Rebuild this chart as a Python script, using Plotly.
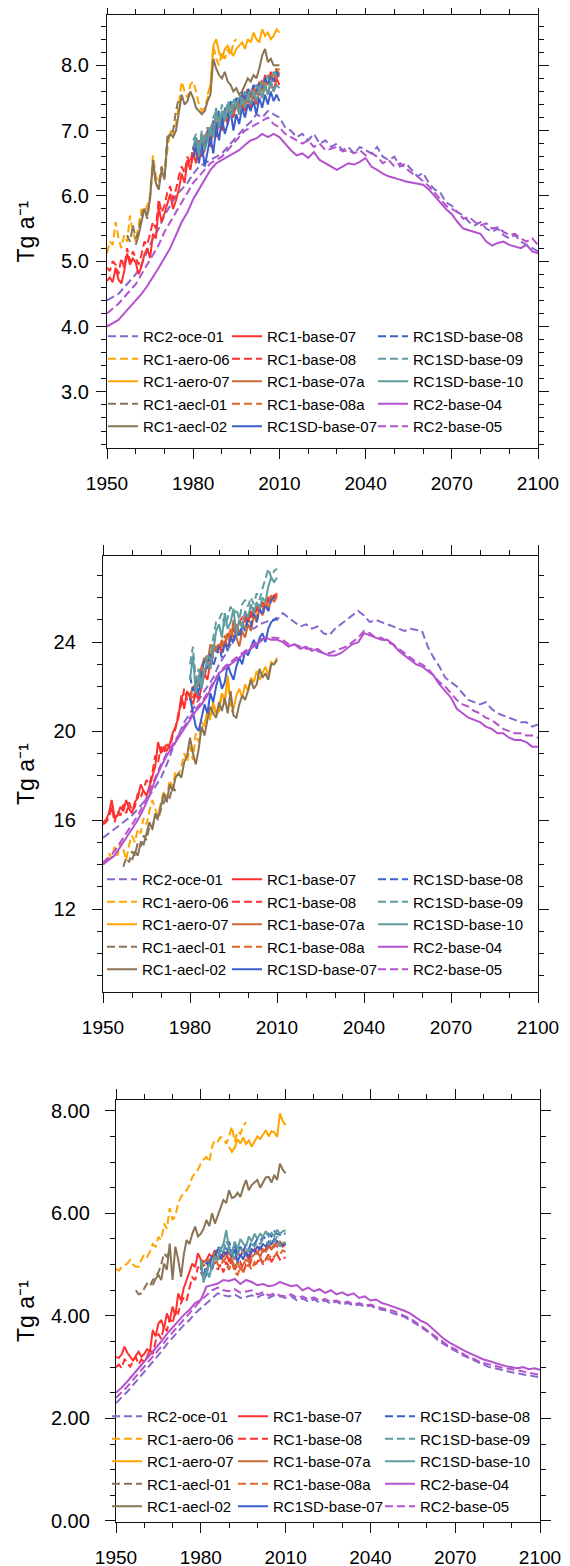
import plotly.graph_objects as go

FONT = "Liberation Sans, Arial, Helvetica, sans-serif"
W, H = 570, 1566
PAGE_OFFSET = 8  # default body margin of the html page

NAMES = ["RC2-oce-01", "RC1-aero-06", "RC1-aero-07", "RC1-aecl-01", "RC1-aecl-02",
         "RC1-base-07", "RC1-base-08", "RC1-base-07a", "RC1-base-08a", "RC1SD-base-07",
         "RC1SD-base-08", "RC1SD-base-09", "RC1SD-base-10", "RC2-base-04", "RC2-base-05"]
COLORS = ["#8968CD", "#FFA500", "#FFA500", "#8B7355", "#8B7355",
          "#FF3030", "#FF3030", "#CD6839", "#E0652A", "#3A5FCD",
          "#3A5FCD", "#5F9EA0", "#5F9EA0", "#B452CD", "#B452CD"]
DASHED = [True, True, False, True, False,
          False, True, False, True, False,
          True, True, False, False, True]

# ---------------- Panel A (top) ----------------
A_oce01 = [4.40, 4.45, 4.50, 4.60, 4.70, 4.80, 4.95, 5.15, 5.35, 5.50,
           5.70, 5.85, 6.00, 6.10, 6.20, 6.34, 6.45, 6.50, 6.55, 6.60,
           6.65, 6.75, 6.85, 6.95, 7.05, 7.13, 7.25, 7.20, 7.30, 7.25,
           7.20, 7.05, 7.00, 6.90, 6.95, 6.85, 6.95, 6.80, 6.85, 6.75,
           6.80, 6.70, 6.75, 6.65, 6.75, 6.70, 6.65, 6.75, 6.60, 6.55,
           6.60, 6.45, 6.50, 6.40, 6.30, 6.35, 6.20, 6.10, 6.05, 5.90,
           5.85, 5.75, 5.70, 5.60, 5.55, 5.60, 5.50, 5.45, 5.50, 5.40,
           5.35, 5.40, 5.30, 5.25, 5.20, 5.15]
A_aero06 = [5.12, 5.30, 5.25, 5.60, 5.35, 5.20, 5.40, 5.30, 5.70, 5.45,
            5.30, 5.55, 5.80, 5.75, 5.85, 6.00, 6.62, 6.30, 6.20, 6.45,
            6.30, 6.70, 7.00, 6.95, 7.10, 7.40, 7.75, 7.60, 7.50, 7.70,
            7.75, 7.60, 7.40, 7.30, 7.35, 7.50, 7.60, 8.30, 8.10, 8.00,
            8.20, 8.10, 8.25, 8.15, 8.35, 8.40]
A_aero07 = [7.55, 7.70, 8.30, 8.40, 8.20, 8.10, 8.25, 8.30, 8.20, 8.15,
            8.25, 8.30, 8.35, 8.25, 8.40, 8.35, 8.50, 8.40, 8.35, 8.55,
            8.45, 8.50, 8.40, 8.45, 8.55, 8.50]
A_aecl01 = [5.40, 5.30, 5.55, 5.35, 5.45, 5.70, 5.80, 5.65, 6.00, 6.50,
            6.20, 6.10, 6.45, 6.30, 6.90, 6.95, 7.00, 7.30, 7.50]
A_aecl02 = [5.25, 5.40, 5.60, 5.80, 5.70, 5.95, 6.55, 6.20, 6.10, 6.40,
            6.25, 6.85, 6.95, 6.90, 7.00, 7.30, 7.55, 7.40, 7.45, 7.60,
            7.50, 7.35, 7.30, 7.25, 7.30, 7.45, 7.55, 8.10, 7.95, 7.85,
            7.80, 7.90, 7.75, 7.70, 7.60, 7.65, 7.55, 7.60, 7.70, 7.80,
            7.75, 7.85, 7.80, 7.95, 8.15, 8.25, 8.05, 8.10, 8.00, 8.00, 8.00]
A_base07 = [4.70, 4.75, 4.68, 4.90, 4.72, 4.66, 4.85, 5.12, 4.95, 5.04,
            4.98, 4.80, 4.92, 5.10, 5.20, 5.05, 5.42, 5.35, 5.83, 5.60,
            5.73, 5.90, 6.03, 5.80, 5.93, 6.10, 6.34, 6.20, 6.55, 6.40,
            6.65, 6.50, 6.80, 6.60, 6.70, 6.95, 6.75, 7.05, 6.90, 7.15,
            7.00, 7.25, 7.10, 7.30, 7.20, 7.45, 7.25, 7.40, 7.30, 7.50,
            7.35, 7.55, 7.40, 7.60, 7.50, 7.70, 7.55, 7.75, 7.60, 7.80, 7.70]
A_base08 = [4.90, 4.85, 5.00, 4.95, 4.80, 5.05, 4.90, 5.20, 5.00, 5.15,
            5.05, 4.95, 5.10, 5.30, 5.25, 5.45, 5.60, 5.50, 5.95, 5.75,
            5.85, 6.05, 6.15, 5.95, 6.10, 6.30, 6.45, 6.35, 6.60, 6.50,
            6.75, 6.60, 6.85, 6.70, 6.90, 7.05, 6.85, 7.15, 7.00, 7.20,
            7.10, 7.35, 7.15, 7.40, 7.30, 7.50, 7.35, 7.55, 7.45, 7.65,
            7.50, 7.70, 7.55, 7.75, 7.65, 7.85, 7.70, 7.90, 7.75, 7.95, 7.85]
A_base07a = [6.70, 6.85, 6.60, 6.90, 6.80, 7.00, 6.95, 7.15, 7.05, 7.25,
             7.10, 7.30, 7.20, 7.40, 7.25, 7.45, 7.35, 7.55, 7.40, 7.60,
             7.50, 7.65, 7.55, 7.75, 7.60, 7.80, 7.70, 7.85, 7.75, 7.95, 7.85]
A_base08a = [6.75, 6.65, 6.85, 6.70, 6.95, 6.85, 7.10, 7.00, 7.20, 7.05,
             7.25, 7.15, 7.35, 7.20, 7.40, 7.30, 7.50, 7.40, 7.55, 7.45,
             7.60, 7.55, 7.70, 7.60, 7.80, 7.70, 7.85, 7.75, 7.90, 7.80, 7.95]
A_sd07 = [6.60, 6.75, 6.50, 6.80, 6.45, 6.70, 6.90, 6.65, 7.05, 6.85,
          7.20, 6.95, 7.10, 7.30, 7.00, 7.25, 7.10, 7.35, 7.20, 7.40,
          7.30, 7.45, 7.25, 7.50, 7.35, 7.55, 7.40, 7.60, 7.45, 7.55, 7.45]
A_sd08 = [6.70, 6.85, 6.65, 6.95, 6.75, 7.00, 6.90, 7.15, 7.00, 7.30,
          7.10, 7.35, 7.20, 7.45, 7.30, 7.50, 7.40, 7.60, 7.45, 7.65,
          7.55, 7.70, 7.60, 7.75, 7.65, 7.80, 7.70, 7.85, 7.75, 7.90, 7.80]
A_sd09 = [6.85, 6.95, 6.70, 7.00, 6.80, 7.05, 6.95, 7.20, 7.30, 7.10,
          7.40, 7.20, 7.45, 7.30, 7.50, 7.35, 7.55, 7.45, 7.60, 7.50,
          7.65, 7.55, 7.70, 7.60, 7.75, 7.65, 7.85, 7.70, 7.90, 7.85, 7.90]
A_sd10 = [6.75, 6.90, 6.60, 6.95, 6.70, 6.85, 7.05, 6.90, 7.35, 7.05,
          7.30, 7.15, 7.40, 7.20, 7.35, 7.45, 7.25, 7.50, 7.35, 7.55,
          7.40, 7.60, 7.45, 7.65, 7.50, 7.70, 7.55, 7.75, 7.60, 7.70, 7.65]
A_base04 = [4.00, 4.05, 4.10, 4.20, 4.30, 4.40, 4.50, 4.62, 4.75, 4.90,
            5.05, 5.20, 5.40, 5.60, 5.75, 5.95, 6.10, 6.25, 6.40, 6.50,
            6.55, 6.60, 6.65, 6.70, 6.78, 6.85, 6.88, 6.95, 6.90, 6.95,
            6.90, 6.80, 6.70, 6.62, 6.65, 6.58, 6.67, 6.55, 6.50, 6.45,
            6.40, 6.45, 6.50, 6.48, 6.52, 6.58, 6.45, 6.40, 6.34, 6.30,
            6.28, 6.25, 6.22, 6.20, 6.18, 6.17, 6.10, 6.00, 5.90, 5.80,
            5.72, 5.60, 5.50, 5.47, 5.45, 5.42, 5.30, 5.24, 5.28, 5.30,
            5.25, 5.22, 5.20, 5.25, 5.15, 5.12]
A_base05 = [4.20, 4.28, 4.35, 4.45, 4.55, 4.65, 4.80, 4.95, 5.10, 5.25,
            5.45, 5.60, 5.75, 5.90, 6.05, 6.20, 6.30, 6.40, 6.50, 6.55,
            6.60, 6.70, 6.80, 6.90, 7.00, 7.05, 7.10, 7.15, 7.20, 7.10,
            7.05, 6.95, 6.90, 6.85, 6.80, 6.85, 6.75, 6.80, 6.70, 6.72,
            6.75, 6.68, 6.70, 6.65, 6.70, 6.62, 6.66, 6.60, 6.50, 6.55,
            6.45, 6.50, 6.42, 6.35, 6.30, 6.22, 6.15, 6.05, 5.95, 5.85,
            5.80, 5.75, 5.65, 5.68, 5.60, 5.55, 5.58, 5.50, 5.52, 5.45,
            5.40, 5.42, 5.35, 5.30, 5.35, 5.25]

# ---------------- Panel B (middle) ----------------
B_oce01 = [15.2, 15.4, 15.6, 15.8, 16.0, 16.2, 16.5, 16.8, 17.1, 17.5,
           17.9, 18.5, 19.2, 19.8, 20.4, 20.8, 21.2, 21.6, 22.0, 22.4,
           23.0, 23.4, 23.9, 24.3, 24.6, 24.7, 24.6, 24.8, 24.9, 25.0,
           25.0, 25.3, 25.1, 24.9, 24.7, 24.8, 24.6, 24.7, 24.4, 24.3,
           24.6, 24.8, 25.0, 25.2, 25.4, 25.2, 24.9, 25.0, 24.9, 24.8,
           24.7, 24.6, 24.5, 24.6, 24.55, 24.5, 23.8, 23.3, 22.9, 22.4,
           22.2, 22.0, 21.7, 21.4, 21.3, 21.2, 21.3, 21.0, 20.8, 20.7,
           20.6, 20.5, 20.4, 20.4, 20.2, 20.3]
B_aero06 = [14.0, 14.2, 14.5, 14.3, 14.8, 14.4, 15.0, 14.7, 14.2, 14.9,
            15.3, 15.0, 15.6, 15.4, 16.1, 15.8, 16.4, 16.9, 16.5, 16.2,
            16.8, 17.3, 17.0, 17.8, 17.5, 18.2, 18.0, 18.4, 19.0, 18.6,
            19.3, 18.7, 19.9, 19.5, 20.4, 20.2, 20.9, 20.5, 21.2, 20.7,
            20.9, 21.6, 21.2, 22.3, 21.0, 20.8]
B_aero07 = [20.3, 20.9, 20.6, 21.3, 20.8, 21.1, 21.7, 21.4, 22.5, 21.3,
            21.0, 21.6, 21.9, 21.5, 22.1, 21.8, 22.4, 22.2, 22.7, 22.3,
            22.6, 22.9, 22.5, 23.1, 23.0, 23.3]
B_aecl01 = [13.9, 14.3, 14.1, 14.6, 14.4, 15.0, 14.8, 15.3, 15.1, 15.7,
            15.6, 16.2, 16.0, 16.5, 16.8, 17.1, 17.0, 17.5, 17.3]
B_aecl02 = [14.2, 14.6, 14.4, 15.0, 14.9, 15.4, 15.9, 15.6, 16.3, 16.1,
            16.6, 17.2, 16.8, 17.6, 17.3, 17.9, 18.1, 17.9, 18.6, 18.9,
            19.7, 19.0, 18.5, 19.2, 20.2, 19.8, 20.5, 21.1, 20.8, 20.6,
            21.3, 20.9, 21.5, 20.8, 21.8, 20.7, 20.6, 21.2, 21.6, 21.4,
            21.8, 22.3, 21.9, 22.1, 22.8, 22.4, 22.6, 22.3, 23.0, 23.0, 23.2]
B_base07 = [15.9, 16.0, 16.3, 16.9, 16.1, 16.2, 16.6, 16.4, 16.9, 16.5,
            16.3, 16.8, 17.0, 17.6, 17.3, 17.1, 17.5, 18.0, 18.4, 19.5,
            19.0, 19.3, 19.1, 19.4, 19.9, 20.2, 20.6, 21.6, 21.0, 21.8,
            21.5, 21.2, 21.7, 21.4, 22.0, 22.6, 22.3, 23.0, 23.8, 23.6,
            23.9, 23.5, 24.0, 24.4, 24.2, 24.6, 24.3, 25.0, 24.7, 25.2,
            24.9, 25.4, 25.2, 25.6, 25.5, 25.8, 25.6, 26.0, 25.9, 26.1, 26.1]
B_base08 = [15.8, 15.9, 16.1, 16.6, 15.9, 16.4, 16.2, 16.7, 16.3, 16.8,
            16.4, 16.6, 17.2, 17.0, 17.4, 17.8, 17.6, 18.1, 18.9, 18.6,
            19.3, 19.0, 19.5, 19.2, 19.8, 20.1, 20.8, 21.2, 21.9, 21.4,
            21.7, 21.4, 21.9, 22.2, 22.6, 22.4, 23.1, 22.8, 23.4, 23.7,
            23.5, 23.9, 24.1, 23.8, 24.3, 24.6, 24.5, 24.9, 25.1, 24.9,
            25.3, 25.1, 25.5, 25.4, 25.7, 25.6, 25.9, 25.8, 26.1, 26.0, 26.2]
B_base07a = [21.6, 22.0, 21.7, 22.4, 22.9, 23.3, 23.0, 23.9, 23.6, 23.8,
             23.7, 24.1, 23.8, 24.4, 24.0, 25.0, 24.2, 23.8, 24.5, 24.2,
             24.8, 24.5, 25.2, 24.9, 25.5, 25.2, 25.7, 25.4, 26.0, 25.8, 26.1]
B_base08a = [21.4, 21.9, 22.2, 22.0, 22.7, 23.1, 23.5, 23.3, 23.9, 23.6,
             24.0, 23.8, 24.3, 24.1, 24.6, 24.2, 24.8, 24.4, 24.9, 24.6,
             25.1, 24.8, 25.4, 25.1, 25.7, 25.4, 25.9, 25.6, 26.1, 25.9, 26.0]
B_sd07 = [21.5, 20.9, 20.2, 20.0, 20.6, 21.2, 20.8, 21.7, 21.3, 22.0,
          22.5, 21.9, 22.2, 23.0, 22.6, 22.3, 22.9, 23.3, 23.0, 23.6,
          23.4, 23.8, 24.1, 23.7, 24.2, 24.4, 24.0, 24.6, 24.9, 25.0, 25.1]
B_sd08 = [22.5, 21.8, 22.3, 21.6, 22.6, 23.2, 22.8, 23.5, 22.9, 23.4,
          23.8, 23.3, 24.0, 23.6, 24.3, 23.9, 24.6, 24.2, 24.8, 24.5,
          25.0, 24.7, 25.3, 24.9, 25.5, 25.2, 25.7, 25.4, 25.9, 26.0, 25.9]
B_sd09 = [23.0, 23.8, 22.3, 22.8, 22.2, 22.9, 23.5, 23.2, 24.2, 24.9,
          25.0, 25.3, 24.7, 25.1, 25.6, 25.2, 25.5, 25.0, 25.7, 25.9,
          25.6, 26.0, 25.7, 26.2, 25.9, 26.4, 26.8, 27.3, 26.9, 27.2, 27.3]
B_sd10 = [22.3, 23.4, 21.7, 22.5, 21.9, 22.7, 23.1, 22.8, 23.5, 24.5,
          24.8, 24.2, 25.3, 24.6, 24.9, 25.5, 24.3, 25.0, 24.6, 25.4,
          25.1, 25.7, 25.3, 25.8, 25.5, 26.0, 25.8, 26.5, 26.9, 26.7, 26.9]
B_base04 = [14.0, 14.2, 14.4, 14.8, 15.2, 15.6, 16.0, 16.5, 17.1, 17.8,
            18.4, 18.9, 19.3, 19.7, 20.1, 20.5, 20.9, 21.2, 21.6, 22.1,
            22.6, 22.8, 23.0, 23.2, 23.4, 23.6, 23.8, 24.0, 24.2, 24.1,
            24.1, 24.0, 23.8, 23.9, 23.7, 23.8, 23.6, 23.7, 23.5, 23.4,
            23.4, 23.5, 23.7, 23.9, 24.0, 24.4, 24.3, 24.2, 24.1, 24.1,
            23.9, 23.6, 23.4, 23.2, 23.0, 22.9, 22.7, 22.5, 22.1, 21.8,
            21.5, 21.0, 20.8, 20.6, 20.5, 20.4, 20.2, 20.1, 19.9, 19.9,
            19.7, 19.6, 19.6, 19.5, 19.3, 19.3]
B_base05 = [14.1, 14.3, 14.6, 15.0, 15.4, 15.8, 16.2, 16.7, 17.3, 17.9,
            18.5, 19.0, 19.4, 19.8, 20.2, 20.6, 21.0, 21.3, 21.7, 22.2,
            22.6, 22.9, 23.1, 23.3, 23.5, 23.7, 23.9, 24.1, 24.2, 24.2,
            24.2, 24.1, 23.9, 23.9, 23.8, 23.7, 23.7, 23.6, 23.5, 23.5,
            23.6, 23.7, 23.8, 24.0, 24.2, 24.5, 24.4, 24.2, 24.2, 24.0,
            23.9, 23.7, 23.5, 23.3, 23.1, 23.0, 22.8, 22.5, 22.2, 22.0,
            21.7, 21.4, 21.2, 21.1, 20.9, 20.8, 20.6, 20.5, 20.3, 20.1,
            20.0, 19.9, 19.9, 19.8, 19.8, 19.7]

# ---------------- Panel C (bottom) ----------------
C_oce01 = [2.30, 2.40, 2.52, 2.65, 2.78, 2.90, 3.02, 3.15, 3.30, 3.45,
           3.58, 3.70, 3.82, 3.92, 4.05, 4.15, 4.25, 4.35, 4.44, 4.40,
           4.38, 4.42, 4.35, 4.37, 4.40, 4.36, 4.42, 4.35, 4.40, 4.38,
           4.35, 4.38, 4.30, 4.34, 4.28, 4.32, 4.26, 4.30, 4.24, 4.28,
           4.22, 4.25, 4.20, 4.22, 4.18, 4.20, 4.15, 4.12, 4.10, 4.05,
           4.02, 3.98, 3.92, 3.85, 3.78, 3.70, 3.62, 3.52, 3.45, 3.38,
           3.32, 3.25, 3.20, 3.15, 3.10, 3.05, 3.00, 2.98, 2.95, 2.92,
           2.90, 2.88, 2.86, 2.84, 2.82, 2.80]
C_aero06 = [4.92, 4.88, 4.95, 4.99, 5.02, 5.09, 5.00, 4.96, 4.96, 5.10,
            5.20, 5.15, 5.25, 5.40, 5.35, 5.54, 5.48, 5.80, 5.70, 6.10,
            5.87, 5.95, 6.20, 6.32, 6.40, 6.45, 6.55, 6.71, 6.78, 6.85,
            6.97, 7.05, 7.10, 7.00, 7.30, 7.43, 7.40, 7.49, 7.45, 7.36,
            7.50, 7.69, 7.40, 7.60, 7.55, 7.70, 7.78]
C_aero07 = [7.30, 7.20, 7.28, 7.45, 7.36, 7.48, 7.35, 7.42, 7.30, 7.40,
            7.50, 7.45, 7.55, 7.62, 7.50, 7.60, 7.58, 7.49, 7.95, 7.80, 7.72]
C_aecl01 = [4.50, 4.42, 4.44, 4.55, 4.63, 4.58, 4.70, 4.76, 4.85, 5.00,
            5.22, 5.15, 5.28]
C_aecl02 = [4.60, 4.72, 4.80, 4.70, 5.02, 4.90, 5.41, 4.70, 5.35, 5.10,
            4.76, 5.20, 5.48, 5.40, 5.60, 5.74, 5.55, 5.60, 5.70, 5.87,
            5.75, 6.00, 5.80, 5.95, 6.10, 6.26, 6.20, 6.45, 6.30, 6.32,
            6.40, 6.32, 6.50, 6.65, 6.45, 6.55, 6.60, 6.65, 6.50, 6.60,
            6.70, 6.71, 6.60, 6.75, 6.65, 6.97, 6.85, 6.78]
C_base07 = [3.20, 3.18, 3.25, 3.40, 3.28, 3.20, 3.13, 3.22, 3.30, 3.20,
            3.26, 3.35, 3.30, 3.72, 3.60, 3.85, 3.92, 3.75, 4.05, 3.90,
            4.18, 4.00, 4.44, 4.30, 4.55, 4.70, 4.85, 5.02, 4.95, 5.22,
            5.10, 5.05, 5.09, 5.20, 5.15, 5.28, 5.10, 5.20, 5.15, 5.25,
            5.05, 5.20, 5.10, 5.25, 5.15, 5.30, 5.20, 5.10, 5.25, 5.30,
            5.20, 5.35, 5.25, 5.30, 5.40, 5.30, 5.35, 5.45, 5.40, 5.35, 5.40]
C_base08 = [3.00, 3.05, 2.98, 3.15, 3.10, 3.00, 3.12, 3.20, 3.05, 3.15,
            3.10, 3.20, 3.35, 3.25, 3.50, 3.65, 3.55, 3.80, 3.70, 3.95,
            3.85, 4.10, 4.05, 4.25, 4.37, 4.30, 4.55, 4.75, 4.70, 4.96,
            4.85, 4.75, 4.90, 5.00, 4.95, 5.05, 4.90, 5.00, 4.85, 5.05,
            4.95, 5.10, 4.90, 5.00, 5.05, 4.85, 5.00, 4.95, 5.10, 5.00,
            5.05, 5.15, 5.00, 5.10, 5.20, 5.05, 5.15, 5.20, 5.10, 5.15, 5.12]
C_base07a = [4.95, 5.05, 5.10, 5.00, 5.15, 5.25, 5.10, 5.20, 5.05, 5.15,
             5.25, 5.10, 4.95, 5.05, 4.90, 5.00, 5.10, 5.05, 5.15, 5.20,
             5.25, 5.15, 5.30, 5.25, 5.35, 5.30, 5.40, 5.35, 5.45, 5.40, 5.42]
C_base08a = [4.90, 5.00, 4.95, 5.10, 5.05, 5.20, 5.00, 4.95, 5.10, 5.00,
             4.90, 5.05, 4.85, 4.80, 4.95, 4.85, 4.95, 5.00, 4.90, 5.05,
             5.00, 5.10, 5.05, 5.15, 5.10, 5.20, 5.15, 5.25, 5.20, 5.28, 5.25]
C_sd07 = [5.00, 4.70, 4.80, 5.05, 4.90, 5.15, 5.30, 5.10, 5.25, 5.20,
          5.35, 5.15, 5.30, 5.05, 5.20, 5.10, 5.25, 5.15, 5.30, 5.25,
          5.35, 5.30, 5.40, 5.35, 5.45, 5.40, 5.50, 5.45, 5.40, 5.38, 5.40]
C_sd08 = [4.95, 4.75, 5.05, 4.95, 5.20, 5.15, 5.35, 5.25, 5.40, 5.30,
          5.45, 5.25, 5.40, 5.20, 5.35, 5.25, 5.40, 5.30, 5.45, 5.40,
          5.50, 5.45, 5.55, 5.50, 5.60, 5.55, 5.65, 5.60, 5.58, 5.62, 5.60]
C_sd09 = [5.05, 4.75, 4.85, 5.00, 4.95, 5.10, 5.20, 5.35, 5.25, 5.45,
          5.35, 5.25, 5.10, 5.20, 5.35, 5.20, 5.30, 5.25, 5.40, 5.35,
          5.45, 5.40, 5.50, 5.45, 5.40, 5.50, 5.45, 5.55, 5.35, 5.45, 5.42]
C_sd10 = [5.09, 4.65, 4.90, 4.75, 5.00, 5.15, 5.10, 5.28, 5.40, 5.67,
          5.30, 5.20, 5.45, 5.30, 5.50, 5.41, 5.35, 5.55, 5.45, 5.60,
          5.50, 5.60, 5.55, 5.65, 5.55, 5.62, 5.55, 5.68, 5.60, 5.65, 5.67]
C_base04 = [2.50, 2.60, 2.72, 2.85, 2.98, 3.10, 3.22, 3.35, 3.50, 3.65,
            3.78, 3.90, 4.02, 4.12, 4.25, 4.31, 4.57, 4.60, 4.63, 4.70,
            4.68, 4.72, 4.62, 4.70, 4.66, 4.60, 4.62, 4.58, 4.60, 4.66,
            4.62, 4.58, 4.60, 4.50, 4.55, 4.48, 4.52, 4.45, 4.50, 4.42,
            4.46, 4.40, 4.44, 4.35, 4.38, 4.30, 4.32, 4.25, 4.22, 4.18,
            4.15, 4.10, 4.05, 3.98, 3.90, 3.85, 3.75, 3.65, 3.55, 3.48,
            3.42, 3.35, 3.30, 3.25, 3.20, 3.15, 3.12, 3.08, 3.05, 3.02,
            3.00, 2.98, 3.00, 2.96, 2.98, 2.95]
C_base05 = [2.40, 2.50, 2.62, 2.75, 2.88, 3.00, 3.12, 3.25, 3.40, 3.55,
            3.68, 3.80, 3.92, 4.05, 4.18, 4.30, 4.40, 4.50, 4.55, 4.50,
            4.48, 4.52, 4.45, 4.47, 4.50, 4.42, 4.46, 4.40, 4.44, 4.40,
            4.38, 4.42, 4.35, 4.38, 4.32, 4.36, 4.30, 4.33, 4.28, 4.30,
            4.25, 4.28, 4.22, 4.25, 4.20, 4.22, 4.18, 4.15, 4.12, 4.10,
            4.05, 4.00, 3.95, 3.88, 3.80, 3.72, 3.64, 3.55, 3.48, 3.40,
            3.35, 3.28, 3.22, 3.18, 3.12, 3.08, 3.05, 3.02, 3.00, 2.98,
            2.96, 2.94, 2.92, 2.90, 2.88, 2.85]

# (first year, year step, values) for every run in each panel
PANEL_A = {"RC2-oce-01": (1950, 2, A_oce01), "RC1-aero-06": (1950, 1, A_aero06),
           "RC1-aero-07": (1985, 1, A_aero07), "RC1-aecl-01": (1957, 1, A_aecl01),
           "RC1-aecl-02": (1960, 1, A_aecl02), "RC1-base-07": (1950, 1, A_base07),
           "RC1-base-08": (1950, 1, A_base08), "RC1-base-07a": (1980, 1, A_base07a),
           "RC1-base-08a": (1980, 1, A_base08a), "RC1SD-base-07": (1980, 1, A_sd07),
           "RC1SD-base-08": (1980, 1, A_sd08), "RC1SD-base-09": (1980, 1, A_sd09),
           "RC1SD-base-10": (1980, 1, A_sd10), "RC2-base-04": (1950, 2, A_base04),
           "RC2-base-05": (1950, 2, A_base05)}
PANEL_B = {"RC2-oce-01": (1950, 2, B_oce01), "RC1-aero-06": (1950, 1, B_aero06),
           "RC1-aero-07": (1985, 1, B_aero07), "RC1-aecl-01": (1957, 1, B_aecl01),
           "RC1-aecl-02": (1960, 1, B_aecl02), "RC1-base-07": (1950, 1, B_base07),
           "RC1-base-08": (1950, 1, B_base08), "RC1-base-07a": (1980, 1, B_base07a),
           "RC1-base-08a": (1980, 1, B_base08a), "RC1SD-base-07": (1980, 1, B_sd07),
           "RC1SD-base-08": (1980, 1, B_sd08), "RC1SD-base-09": (1980, 1, B_sd09),
           "RC1SD-base-10": (1980, 1, B_sd10), "RC2-base-04": (1950, 2, B_base04),
           "RC2-base-05": (1950, 2, B_base05)}
PANEL_C = {"RC2-oce-01": (1950, 2, C_oce01), "RC1-aero-06": (1950, 1, C_aero06),
           "RC1-aero-07": (1990, 1, C_aero07), "RC1-aecl-01": (1957, 1, C_aecl01),
           "RC1-aecl-02": (1963, 1, C_aecl02), "RC1-base-07": (1950, 1, C_base07),
           "RC1-base-08": (1950, 1, C_base08), "RC1-base-07a": (1980, 1, C_base07a),
           "RC1-base-08a": (1980, 1, C_base08a), "RC1SD-base-07": (1980, 1, C_sd07),
           "RC1SD-base-08": (1980, 1, C_sd08), "RC1SD-base-09": (1980, 1, C_sd09),
           "RC1SD-base-10": (1980, 1, C_sd10), "RC2-base-04": (1950, 2, C_base04),
           "RC2-base-05": (1950, 2, C_base05)}
PANELS = [PANEL_A, PANEL_B, PANEL_C]

# ---------------- layout geometry (pixels in the screenshot) ----------------
BOX = [(107, 538, 15, 448), (103, 538, 556, 992), (116, 540, 1100, 1522)]
YRANGE = [(2.14, 8.77), (8.27, 27.87), (-0.02, 8.21)]
YDTICK = [1.0, 4.0, 2.0]
YMINOR = [0.2, 1.0, 0.5]
YFMT = [".1f", "d", ".2f"]
YSTAND = [3, 12, 11]
LEG_X = [(103, 227, 373), (102, 227, 373), (107, 233, 380)]
LEG_Y = [320, 863, 1400]


def px_x(v):
    return (v - PAGE_OFFSET) / W


def px_y(v):
    return 1 - (v - PAGE_OFFSET) / H


fig = go.Figure()
for p, panel in enumerate(PANELS):
    sfx = "" if p == 0 else str(p + 1)
    for i, name in enumerate(NAMES):
        start, step, vals = panel[name]
        years = [start + k * step for k in range(len(vals))]
        k = p * 3 + i // 5
        leg = "legend" + ("" if k == 0 else str(k + 1))
        fig.add_trace(go.Scatter(
            x=years, y=vals, mode="lines", name=name,
            line=dict(color=COLORS[i], width=2, dash="8px,4px" if DASHED[i] else "solid"),
            xaxis="x" + sfx, yaxis="y" + sfx, legend=leg, showlegend=True))

axis_common = dict(showline=True, linecolor="#111", linewidth=1.3, mirror="ticks",
                   ticks="outside", ticklen=10, tickwidth=1.3, tickcolor="#111",
                   showgrid=False, zeroline=False)
layout = dict(width=W, height=H, margin=dict(l=0, r=0, t=0, b=0, autoexpand=False),
              paper_bgcolor="white", plot_bgcolor="white", showlegend=True,
              font=dict(family=FONT, color="black"))
annotations = []
for p in range(3):
    sfx = "" if p == 0 else str(p + 1)
    x0, x1, y0, y1 = BOX[p]
    layout["xaxis" + sfx] = dict(axis_common, domain=[px_x(x0), px_x(x1)], anchor="y" + sfx,
                                range=[1950, 2100], tickmode="linear", tick0=1950, dtick=30,
                                ticklabelstandoff=8,
                                tickfont=dict(family=FONT, size=19, color="black"),
                                minor=dict(ticks="outside", ticklen=5, tickwidth=1.3,
                                           tickcolor="#111", dtick=10, tick0=1950))
    layout["yaxis" + sfx] = dict(axis_common, domain=[px_y(y1), px_y(y0)], anchor="x" + sfx,
                                range=list(YRANGE[p]), tickmode="linear", tick0=0,
                                dtick=YDTICK[p], tickformat=YFMT[p],
                                ticklabelstandoff=YSTAND[p],
                                tickfont=dict(family=FONT, size=20, color="black"),
                                minor=dict(ticks="outside", ticklen=5, tickwidth=1.3,
                                           tickcolor="#111", dtick=YMINOR[p], tick0=0))
    annotations.append(dict(text="Tg a\u207b\u00b9", textangle=-90, xref="paper", yref="paper",
                            x=px_x(26), y=px_y((y0 + y1) / 2), xanchor="center", yanchor="middle",
                            showarrow=False, font=dict(family=FONT, size=23, color="black")))
    for c in range(3):
        k = p * 3 + c
        key = "legend" + ("" if k == 0 else str(k + 1))
        layout[key] = dict(x=px_x(LEG_X[p][c]), y=px_y(LEG_Y[p]), xanchor="left", yanchor="top",
                           bgcolor="rgba(0,0,0,0)", borderwidth=0, itemwidth=30,
                           tracegroupgap=0, traceorder="normal",
                           font=dict(family=FONT, size=15, color="black"))
layout["annotations"] = annotations
fig.update_layout(**layout)
fig.write_html("out.html")
